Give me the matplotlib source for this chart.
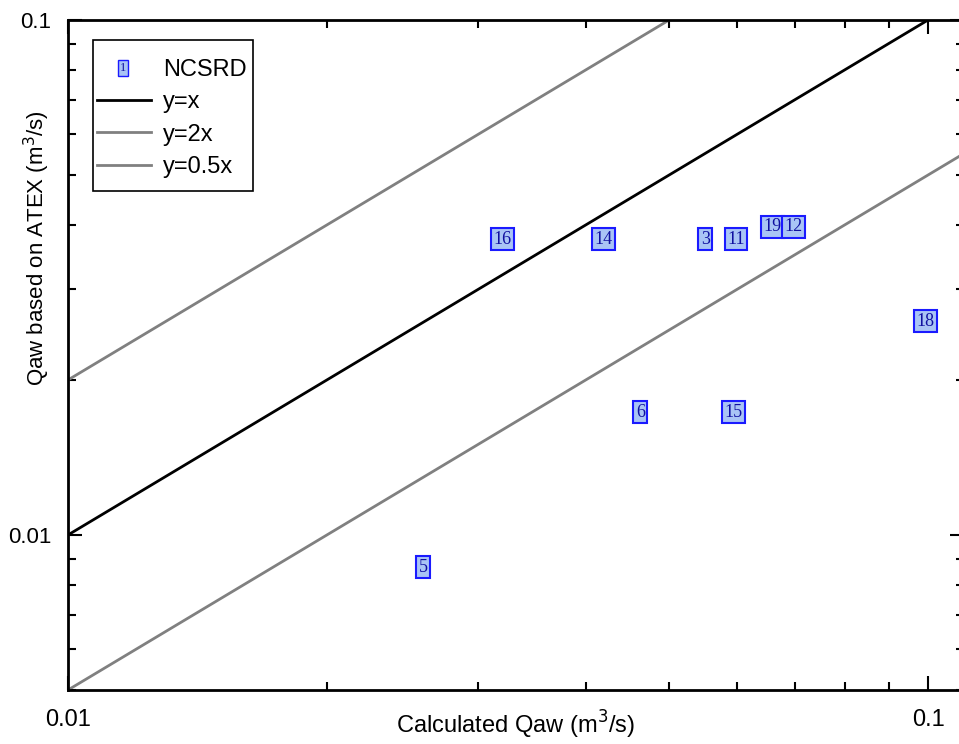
import matplotlib
matplotlib.use('Agg')
import matplotlib.pyplot as plt
from matplotlib.legend_handler import HandlerBase
from matplotlib.lines import Line2D
from matplotlib.patches import Rectangle
from matplotlib.ticker import LogLocator, NullFormatter, FixedLocator, FixedFormatter

plt.rcParams['font.family'] = ['Liberation Sans', 'DejaVu Sans']

# NCSRD test points: calculated Qaw vs Qaw based on ATEX (m3/s)
test_ids = ['16', '14', '3', '11', '19', '12', '6', '15', '5', '18']
q_calc = [0.0320, 0.0419, 0.0551, 0.0598, 0.0660, 0.0698, 0.0463, 0.0594, 0.0259, 0.0994]
q_atex = [0.0375, 0.0375, 0.0375, 0.0375, 0.0397, 0.0397, 0.0173, 0.0173, 0.00866, 0.0260]

line_x = [0.01, 0.12]
ratios = [1.0, 2.0, 0.5]
ratio_labels = ['y=x', 'y=2x', 'y=0.5x']
ratio_colors = ['black', '#808080', '#808080']

box_face = '#a9c4f5'
box_edge = '#1a1aff'
num_color = '#1010a0'


class NumBoxHandler(HandlerBase):
    def create_artists(self, legend, orig_handle, xd, yd, width, height, fontsize, trans):
        t = plt.Text(-xd + width * 0.5, -yd + height / 2, '1',
                     ha='center', va='center', fontsize=9, color=num_color,
                     family='Liberation Serif',
                     bbox=dict(boxstyle='square,pad=0.15', fc=box_face, ec=box_edge, lw=1.0),
                     transform=trans)
        return [t]


class LongLineHandler(HandlerBase):
    # line that reaches further out than the handle box
    def create_artists(self, legend, orig_handle, xd, yd, width, height, fontsize, trans):
        y = -yd + height / 2
        ln = Line2D([-xd - 9, -xd + width + 10], [y, y],
                    color=orig_handle.get_color(), lw=orig_handle.get_linewidth(),
                    transform=trans)
        return [ln]


fig = plt.figure(figsize=(9.59, 7.44), dpi=100)
ax = fig.add_axes([0.0709, 0.0726, 0.9339, 0.9005])
ax.set_xscale('log')
ax.set_yscale('log')
ax.set_xlim(0.01, 0.11)
ax.set_ylim(0.005, 0.1)

handles = []
for r, lab, c in zip(ratios, ratio_labels, ratio_colors):
    ln, = ax.plot(line_x, [r * v for v in line_x], color=c, lw=2.0, label=lab)
    handles.append(ln)

for tid, xv, yv in zip(test_ids, q_calc, q_atex):
    ax.text(xv, yv, tid, ha='center', va='center', fontsize=13, color=num_color,
            family='Liberation Serif',
            bbox=dict(boxstyle='square,pad=0.14', fc=box_face, ec=box_edge, lw=1.5))

# legend frame drawn by hand (tight on the right, roomy at top/bottom)
ax.add_patch(Rectangle((0.0279, 0.7448), 0.1790, 0.2253, transform=ax.transAxes,
                       fc='white', ec='black', lw=1.2, zorder=4))

marker_handle = Line2D([], [], linestyle='none')
hmap = {marker_handle: NumBoxHandler()}
for h in handles:
    hmap[h] = LongLineHandler()
leg = ax.legend([marker_handle] + handles, ['NCSRD'] + ratio_labels,
                handler_map=hmap,
                loc='upper left', bbox_to_anchor=(0.028, 0.966), borderaxespad=0,
                fontsize=17, frameon=False, handlelength=1.15,
                handletextpad=1.12, labelspacing=0.43, borderpad=0.7)
leg.set_zorder(5)

# ticks
ax.xaxis.set_major_locator(FixedLocator([0.01, 0.1]))
ax.xaxis.set_major_formatter(FixedFormatter(['0.01', '0.1']))
ax.yaxis.set_major_locator(FixedLocator([0.01, 0.1]))
ax.yaxis.set_major_formatter(FixedFormatter(['0.01', '0.1']))
ax.xaxis.set_minor_locator(LogLocator(base=10, subs=range(2, 10)))
ax.yaxis.set_minor_locator(LogLocator(base=10, subs=range(2, 10)))
ax.xaxis.set_minor_formatter(NullFormatter())
ax.yaxis.set_minor_formatter(NullFormatter())
ax.tick_params(which='both', direction='in', top=True, right=True, width=1.5)
ax.tick_params(which='major', length=10)
ax.tick_params(which='minor', length=6)
ax.tick_params(axis='x', which='major', labelsize=17, pad=14)
ax.tick_params(axis='y', which='major', labelsize=16, pad=12)
for s in ax.spines.values():
    s.set_linewidth(2)

ax.set_xlabel('Calculated Qaw (m$^3$/s)', fontsize=17)
ax.set_ylabel('Qaw based on ATEX (m$^3$/s)', fontsize=16)
ax.xaxis.set_label_coords(0.5, -0.028)
ax.yaxis.set_label_coords(-0.018, 0.66)

fig.savefig('out.png', dpi=100)
